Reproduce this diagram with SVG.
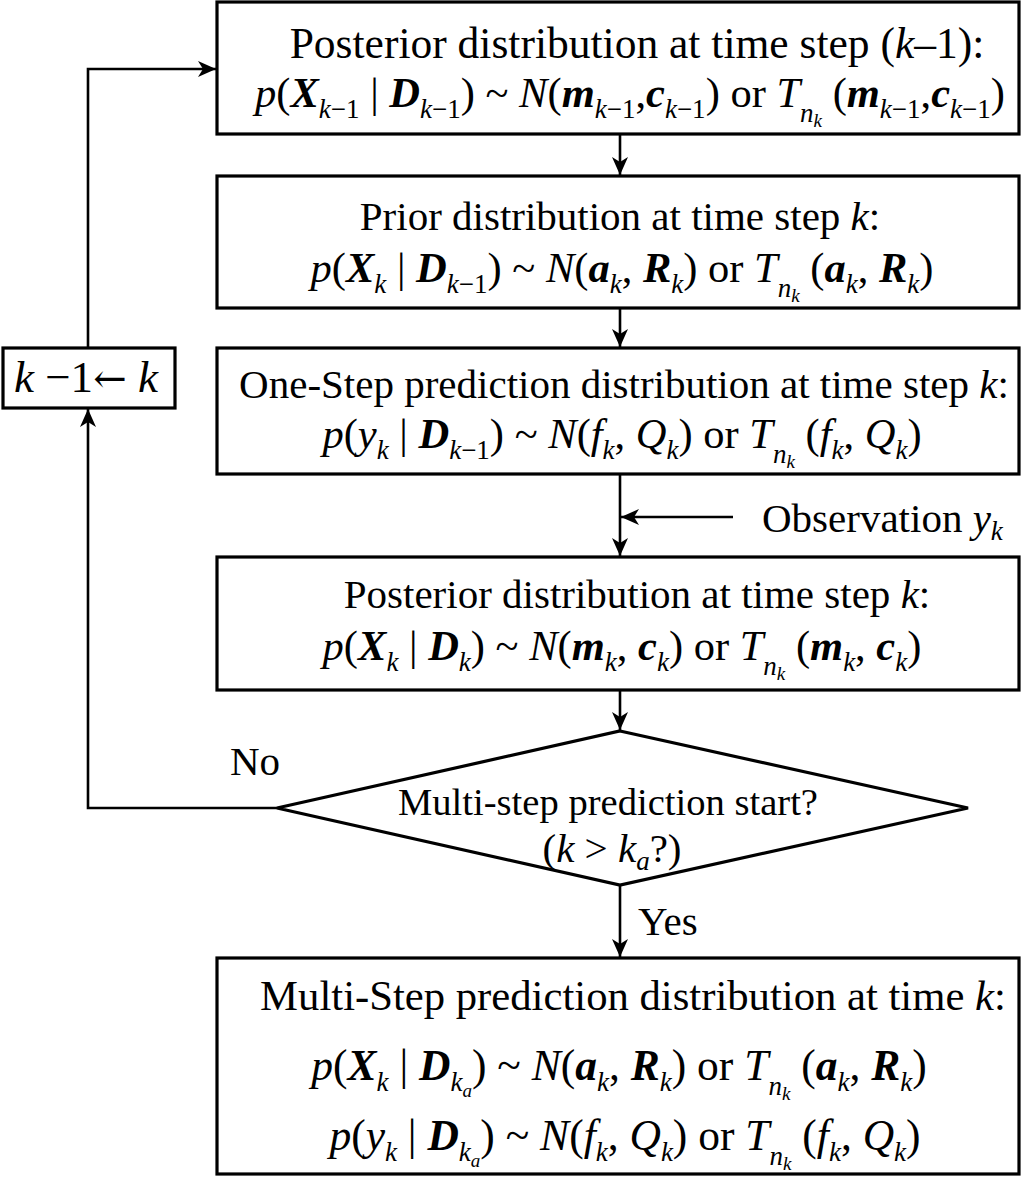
<svg xmlns="http://www.w3.org/2000/svg" width="1025" height="1177" viewBox="0 0 1025 1177">
<style>
text{font-family:"Liberation Serif","Times New Roman",serif;font-size:41px;fill:#000}
.c{text-anchor:middle}
.m{font-size:42.5px}
.i{font-style:italic}
.b{font-weight:bold;font-style:italic}
.s{font-size:27px}
.ss{font-size:19px}
.box{fill:#fff;stroke:#000;stroke-width:3.2}
.ln{fill:none;stroke:#000;stroke-width:2.6}
</style>
<defs>
<marker id="ah" viewBox="0 0 18 16" refX="18" refY="8" markerWidth="18" markerHeight="16" markerUnits="userSpaceOnUse" orient="auto">
<path d="M0,0 L18,8 L0,16 L5,8 z" fill="#000"/>
</marker>
</defs>
<g id="connectors">
<path class="ln" d="M277,808 H88 V409" marker-end="url(#ah)"/>
<path class="ln" d="M88,348 V69 H216" marker-end="url(#ah)"/>
<path class="ln" d="M620,134 V175" marker-end="url(#ah)"/>
<path class="ln" d="M620,308 V347" marker-end="url(#ah)"/>
<path class="ln" d="M620,474 V556" marker-end="url(#ah)"/>
<path class="ln" d="M733,517 H621" marker-end="url(#ah)"/>
<path class="ln" d="M620,690 V730" marker-end="url(#ah)"/>
<path class="ln" d="M620,885 V957" marker-end="url(#ah)"/>
</g>
<g id="node-posterior-prev">
<rect class="box" x="217" y="2" width="802" height="132"/>
<text class="c" x="637" y="58" style="font-size:43.5px">Posterior distribution at time step (<tspan class="i">k</tspan>–1):</text>
<text class="c m" x="630" y="107"><tspan class="i">p</tspan>(<tspan class="b">X</tspan><tspan class="s" dy="11"><tspan class="i">k</tspan>−1</tspan><tspan dy="-11"> | </tspan><tspan class="b">D</tspan><tspan class="s" dy="11"><tspan class="i">k</tspan>−1</tspan><tspan dy="-11">) ~ </tspan><tspan class="i">N</tspan>(<tspan class="b">m</tspan><tspan class="s" dy="11"><tspan class="i">k</tspan>−1</tspan><tspan dy="-11">,</tspan><tspan class="b">c</tspan><tspan class="s" dy="11"><tspan class="i">k</tspan>−1</tspan><tspan dy="-11">) or </tspan><tspan class="i">T</tspan><tspan class="s i" dy="15">n</tspan><tspan class="ss i" dy="5">k</tspan><tspan dy="-20"> (</tspan><tspan class="b">m</tspan><tspan class="s" dy="11"><tspan class="i">k</tspan>−1</tspan><tspan dy="-11">,</tspan><tspan class="b">c</tspan><tspan class="s" dy="11"><tspan class="i">k</tspan>−1</tspan><tspan dy="-11">)</tspan></text>
</g>
<g id="node-prior">
<rect class="box" x="217" y="176" width="802" height="132"/>
<text class="c" x="620" y="230">Prior distribution at time step <tspan class="i">k</tspan>:</text>
<text class="c m" x="622" y="282"><tspan class="i">p</tspan>(<tspan class="b">X</tspan><tspan class="s i" dy="11">k</tspan><tspan dy="-11"> | </tspan><tspan class="b">D</tspan><tspan class="s" dy="11"><tspan class="i">k</tspan>−1</tspan><tspan dy="-11">) ~ </tspan><tspan class="i">N</tspan>(<tspan class="b">a</tspan><tspan class="s i" dy="11">k</tspan><tspan dy="-11">, </tspan><tspan class="b">R</tspan><tspan class="s i" dy="11">k</tspan><tspan dy="-11">) or </tspan><tspan class="i">T</tspan><tspan class="s i" dy="15">n</tspan><tspan class="ss i" dy="5">k</tspan><tspan dy="-20"> (</tspan><tspan class="b">a</tspan><tspan class="s i" dy="11">k</tspan><tspan dy="-11">, </tspan><tspan class="b">R</tspan><tspan class="s i" dy="11">k</tspan><tspan dy="-11">)</tspan></text>
</g>
<g id="node-onestep">
<rect class="box" x="217" y="348" width="802" height="126"/>
<text class="c" x="624" y="398">One-Step prediction distribution at time step <tspan class="i">k</tspan>:</text>
<text class="c m" x="622" y="448"><tspan class="i">p</tspan>(<tspan class="i">y</tspan><tspan class="s i" dy="11">k</tspan><tspan dy="-11"> | </tspan><tspan class="b">D</tspan><tspan class="s" dy="11"><tspan class="i">k</tspan>−1</tspan><tspan dy="-11">) ~ </tspan><tspan class="i">N</tspan>(<tspan class="i">f</tspan><tspan class="s i" dy="11">k</tspan><tspan dy="-11">, </tspan><tspan class="i">Q</tspan><tspan class="s i" dy="11">k</tspan><tspan dy="-11">) or </tspan><tspan class="i">T</tspan><tspan class="s i" dy="15">n</tspan><tspan class="ss i" dy="5">k</tspan><tspan dy="-20"> (</tspan><tspan class="i">f</tspan><tspan class="s i" dy="11">k</tspan><tspan dy="-11">, </tspan><tspan class="i">Q</tspan><tspan class="s i" dy="11">k</tspan><tspan dy="-11">)</tspan></text>
</g>
<g id="node-observation">
<text x="762" y="532">Observation <tspan class="i">y</tspan><tspan class="s i" dy="8">k</tspan></text>
</g>
<g id="node-posterior">
<rect class="box" x="217" y="557" width="802" height="133"/>
<text class="c" x="637" y="608">Posterior distribution at time step <tspan class="i">k</tspan>:</text>
<text class="c m" x="622" y="660"><tspan class="i">p</tspan>(<tspan class="b">X</tspan><tspan class="s i" dy="11">k</tspan><tspan dy="-11"> | </tspan><tspan class="b">D</tspan><tspan class="s i" dy="11">k</tspan><tspan dy="-11">) ~ </tspan><tspan class="i">N</tspan>(<tspan class="b">m</tspan><tspan class="s i" dy="11">k</tspan><tspan dy="-11">, </tspan><tspan class="b">c</tspan><tspan class="s i" dy="11">k</tspan><tspan dy="-11">) or </tspan><tspan class="i">T</tspan><tspan class="s i" dy="15">n</tspan><tspan class="ss i" dy="5">k</tspan><tspan dy="-20"> (</tspan><tspan class="b">m</tspan><tspan class="s i" dy="11">k</tspan><tspan dy="-11">, </tspan><tspan class="b">c</tspan><tspan class="s i" dy="11">k</tspan><tspan dy="-11">)</tspan></text>
</g>
<g id="node-decision">
<polygon class="box" points="620,731 968,808 620,885 277,808"/>
<text class="c" x="608" y="815" style="font-size:38.6px">Multi-step prediction start?</text>
<text class="c" x="612" y="862">(<tspan class="i">k</tspan> &gt; <tspan class="i">k</tspan><tspan class="s i" dy="8">a</tspan><tspan dy="-8">?)</tspan></text>
<text x="230" y="775">No</text>
<text x="638" y="935">Yes</text>
</g>
<g id="node-update">
<rect class="box" x="3" y="348" width="172" height="60"/>
<text x="14" y="392" style="font-size:45px"><tspan class="i">k</tspan> −1<tspan style="font-family:'DejaVu Serif';font-size:40px">←</tspan> <tspan class="i">k</tspan></text>
</g>
<g id="node-multistep">
<rect class="box" x="217" y="958" width="802" height="216"/>
<text class="c" x="633" y="1010" style="font-size:42.7px">Multi-Step prediction distribution at time <tspan class="i">k</tspan>:</text>
<text class="c" x="619" y="1080" style="font-size:43.5px"><tspan class="i">p</tspan>(<tspan class="b">X</tspan><tspan class="s i" dy="11">k</tspan><tspan dy="-11"> | </tspan><tspan class="b">D</tspan><tspan class="s i" dy="11">k</tspan><tspan class="ss i" dy="6">a</tspan><tspan dy="-17">) ~ </tspan><tspan class="i">N</tspan>(<tspan class="b">a</tspan><tspan class="s i" dy="11">k</tspan><tspan dy="-11">, </tspan><tspan class="b">R</tspan><tspan class="s i" dy="11">k</tspan><tspan dy="-11">) or </tspan><tspan class="i">T</tspan><tspan class="s i" dy="15">n</tspan><tspan class="ss i" dy="5">k</tspan><tspan dy="-20"> (</tspan><tspan class="b">a</tspan><tspan class="s i" dy="11">k</tspan><tspan dy="-11">, </tspan><tspan class="b">R</tspan><tspan class="s i" dy="11">k</tspan><tspan dy="-11">)</tspan></text>
<text class="c" x="625" y="1150" style="font-size:43.5px"><tspan class="i">p</tspan>(<tspan class="i">y</tspan><tspan class="s i" dy="11">k</tspan><tspan dy="-11"> | </tspan><tspan class="b">D</tspan><tspan class="s i" dy="11">k</tspan><tspan class="ss i" dy="6">a</tspan><tspan dy="-17">) ~ </tspan><tspan class="i">N</tspan>(<tspan class="i">f</tspan><tspan class="s i" dy="11">k</tspan><tspan dy="-11">, </tspan><tspan class="i">Q</tspan><tspan class="s i" dy="11">k</tspan><tspan dy="-11">) or </tspan><tspan class="i">T</tspan><tspan class="s i" dy="15">n</tspan><tspan class="ss i" dy="5">k</tspan><tspan dy="-20"> (</tspan><tspan class="i">f</tspan><tspan class="s i" dy="11">k</tspan><tspan dy="-11">, </tspan><tspan class="i">Q</tspan><tspan class="s i" dy="11">k</tspan><tspan dy="-11">)</tspan></text>
</g>
</svg>
